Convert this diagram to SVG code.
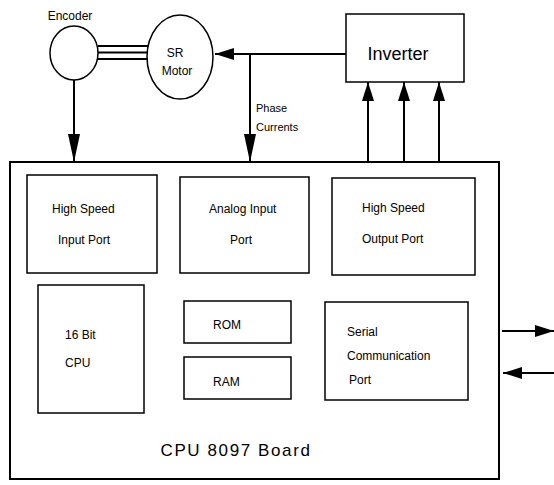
<svg xmlns="http://www.w3.org/2000/svg" width="554" height="485" viewBox="0 0 554 485">
<defs>
<marker id="ah" markerUnits="userSpaceOnUse" markerWidth="20" markerHeight="12" refX="19" refY="6" orient="auto">
<path d="M0,0 L19,6 L0,12 Z" fill="#000"/>
</marker>
<marker id="ahl" markerUnits="userSpaceOnUse" markerWidth="29" markerHeight="12" refX="28" refY="6" orient="auto">
<path d="M0,0 L28,6 L0,12 Z" fill="#000"/>
</marker>
</defs>
<style>
.box{fill:#fff;stroke:#000;stroke-width:1.5}
.big{fill:#fff;stroke:#000;stroke-width:2}
.t{font-family:"Liberation Sans",Arial,sans-serif;font-size:12px;fill:#000}
.c{stroke:#000;stroke-width:2;fill:none}
</style>
<rect width="554" height="485" fill="#fff"/>

<g id="board">
<rect class="big" x="10" y="162" width="489" height="317"/>
<text class="t" x="236" y="456" text-anchor="middle" style="font-size:17px;letter-spacing:1.6px">CPU 8097 Board</text>
</g>

<g id="encoder">
<ellipse class="box" cx="74" cy="53" rx="24" ry="27"/>
<text class="t" x="70" y="20" text-anchor="middle">Encoder</text>
</g>

<g id="motor">
<ellipse class="box" cx="180" cy="57" rx="33" ry="42"/>
<text class="t" x="175" y="57" text-anchor="middle">SR</text>
<text class="t" x="177" y="75" text-anchor="middle">Motor</text>
</g>

<g id="inverter">
<rect class="box" x="346" y="14" width="118" height="68"/>
<text class="t" x="398" y="60" text-anchor="middle" style="font-size:18px">Inverter</text>
</g>

<g id="hs-input">
<rect class="box" x="27" y="175" width="130" height="98"/>
<text class="t" x="52" y="213">High Speed</text>
<text class="t" x="58" y="244">Input Port</text>
</g>

<g id="analog-input">
<rect class="box" x="180" y="177" width="129" height="96"/>
<text class="t" x="209" y="213">Analog Input</text>
<text class="t" x="230" y="244">Port</text>
</g>

<g id="hs-output">
<rect class="box" x="332" y="178" width="143" height="97"/>
<text class="t" x="362" y="212">High Speed</text>
<text class="t" x="362" y="243">Output Port</text>
</g>

<g id="cpu">
<rect class="box" x="38" y="285" width="106" height="128"/>
<text class="t" x="65" y="339">16 Bit</text>
<text class="t" x="65" y="367">CPU</text>
</g>

<g id="rom">
<rect class="box" x="184" y="301" width="107" height="42"/>
<text class="t" x="213" y="329">ROM</text>
</g>

<g id="ram">
<rect class="box" x="184" y="357" width="107" height="42"/>
<text class="t" x="213" y="386">RAM</text>
</g>

<g id="serial">
<rect class="box" x="325" y="302" width="143" height="98"/>
<text class="t" x="347" y="336">Serial</text>
<text class="t" x="347" y="360">Communication</text>
<text class="t" x="349" y="384">Port</text>
</g>

<g id="connectors">
<line class="c" x1="98" y1="46" x2="148" y2="46" stroke-width="1.5"/>
<line class="c" x1="98" y1="52.5" x2="147" y2="52.5" stroke-width="1.5"/>
<line class="c" x1="98" y1="59" x2="148" y2="59" stroke-width="1.5"/>
<line class="c" x1="74" y1="80" x2="74" y2="162" marker-end="url(#ahl)"/>
<line class="c" x1="346" y1="54" x2="215" y2="54" marker-end="url(#ah)"/>
<line class="c" x1="250" y1="54" x2="250" y2="162" marker-end="url(#ahl)"/>
<text class="t" x="256" y="112" style="font-size:11px">Phase</text>
<text class="t" x="256" y="131" style="font-size:11px">Currents</text>
<line class="c" x1="368" y1="162" x2="368" y2="82" marker-end="url(#ah)"/>
<line class="c" x1="404" y1="162" x2="404" y2="82" marker-end="url(#ah)"/>
<line class="c" x1="439" y1="162" x2="439" y2="82" marker-end="url(#ah)"/>
<line class="c" x1="502" y1="331" x2="554" y2="331" marker-end="url(#ah)"/>
<line class="c" x1="554" y1="373" x2="503" y2="373" marker-end="url(#ah)"/>
</g>
</svg>
